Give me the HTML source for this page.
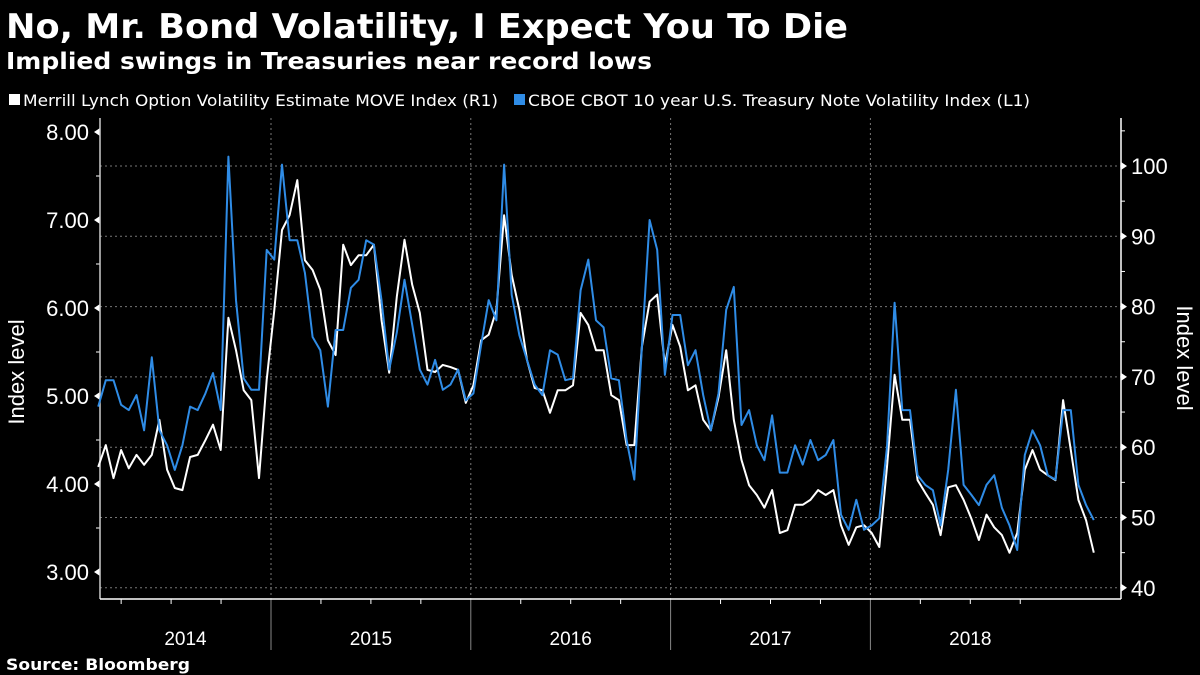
<!DOCTYPE html>
<html><head><meta charset="utf-8"><style>
html,body{margin:0;padding:0;background:#000;}
svg{display:block;font-family:"Liberation Sans","DejaVu Sans",sans-serif;}
</style></head><body>
<svg id="chart" width="1200" height="675" viewBox="0 0 1200 675">
<rect width="1200" height="675" fill="#000"/>
<text x="6" y="38" fill="#fff" font-size="34" font-weight="bold" font-family="DejaVu Sans, sans-serif" textLength="842" lengthAdjust="spacingAndGlyphs">No, Mr. Bond Volatility, I Expect You To Die</text>
<text x="6" y="69" fill="#fff" font-size="23" font-weight="bold" font-family="DejaVu Sans, sans-serif" textLength="646" lengthAdjust="spacingAndGlyphs">Implied swings in Treasuries near record lows</text>
<g>
<g><rect x="9" y="94" width="11" height="11" fill="#fff"/><text x="23" y="106" fill="#fff" font-size="16" font-family="DejaVu Sans, sans-serif" textLength="475" lengthAdjust="spacingAndGlyphs">Merrill Lynch Option Volatility Estimate MOVE Index  (R1)</text></g>
<g><rect x="514" y="94" width="11" height="11" fill="#2f8ce6"/><text x="528" y="106" fill="#fff" font-size="16" font-family="DejaVu Sans, sans-serif" textLength="502" lengthAdjust="spacingAndGlyphs">CBOE CBOT 10 year U.S. Treasury Note Volatility Index  (L1)</text></g>
</g>
<g id="grid"></g>
<g id="axes"></g>
<g id="series"></g>
<text transform="translate(24,372) rotate(-90)" text-anchor="middle" fill="#fff" font-size="22">Index level</text>
<text transform="translate(1177,358) rotate(90)" text-anchor="middle" fill="#fff" font-size="22">Index level</text>
<text x="6" y="670" fill="#fff" font-size="16" font-weight="bold" font-family="DejaVu Sans, sans-serif" textLength="184" lengthAdjust="spacingAndGlyphs">Source: Bloomberg</text>
</svg>
<script>
// Data: biweekly samples starting 2014-02-19
const startYear = 2014.135;
const stepYears = 14/365.25;
const leftTicks = ["8.00","7.00","6.00","5.00","4.00","3.00"];
const leftTickValues = [8,7,6,5,4,3];
const rightTickValues = [100,90,80,70,60,50,40];
const yearLabels = ["2014","2015","2016","2017","2018"];
const yearStarts = [2014,2015,2016,2017,2018,2019];
const tyvix = [4.88,5.18,5.18,4.90,4.84,5.01,4.61,5.44,4.61,4.44,4.16,4.44,4.88,4.84,5.03,5.26,4.84,7.72,6.09,5.20,
5.07,5.07,6.66,6.55,7.63,6.77,6.77,6.40,5.67,5.52,4.88,5.75,5.75,6.23,6.32,6.77,6.72,6.09,5.30,5.72,
6.32,5.81,5.30,5.13,5.41,5.07,5.13,5.30,4.95,5.03,5.58,6.09,5.86,7.63,6.15,5.69,5.41,5.13,5.01,5.52,
5.47,5.18,5.20,6.20,6.55,5.86,5.78,5.20,5.18,4.50,4.05,5.56,7.00,6.66,5.24,5.92,5.92,5.35,5.52,5.01,
4.61,5.03,5.98,6.24,4.67,4.84,4.44,4.27,4.78,4.13,4.13,4.44,4.22,4.50,4.27,4.33,4.50,3.65,3.48,3.82,
3.48,3.53,3.61,4.42,6.06,4.84,4.84,4.10,3.99,3.93,3.53,4.16,5.07,3.99,3.88,3.76,3.99,4.10,3.73,3.53,
3.25,4.33,4.61,4.44,4.10,4.05,4.84,4.84,3.99,3.76,3.59];
const move = [57.2,60.3,55.6,59.6,57.0,58.9,57.5,58.9,63.9,56.8,54.2,53.9,58.6,58.9,61.0,63.2,59.6,78.4,73.8,68.1,
66.7,55.6,69.6,79.5,90.9,93.0,98.0,86.6,85.2,82.4,75.2,73.1,88.8,85.9,87.3,87.3,88.8,78.1,70.6,81.4,
89.5,83.1,79.1,71.0,70.7,71.7,71.4,71.0,66.3,68.8,75.2,76.0,79.5,93.0,84.5,79.5,72.4,68.4,68.1,64.9,
68.1,68.1,68.8,79.1,77.4,73.8,73.8,67.4,66.7,60.3,60.3,74.3,80.7,81.7,71.7,77.4,74.3,68.1,68.8,63.9,
62.4,67.1,73.8,63.9,58.2,54.6,53.2,51.4,53.9,47.8,48.2,51.8,51.8,52.5,53.9,53.2,53.9,48.9,46.1,48.6,
48.9,47.8,45.8,57.2,70.3,63.9,63.9,55.3,53.5,51.8,47.5,54.3,54.6,52.5,49.9,46.8,50.4,48.6,47.5,45.0,
47.8,56.8,59.6,56.8,56.0,55.3,66.7,59.6,52.5,49.6,45.0];

const NS="http://www.w3.org/2000/svg";
const X0=100, X1=1121, YT=118, YB=599;
function xScale(t){return 271 + (t-2015)*199.8;}
function yLeft(v){return 132 + (8-v)*88;}
function yRight(v){return 166 + (100-v)*7.03;}
function mk(tag,attrs,parent){const e=document.createElementNS(NS,tag);for(const k in attrs)e.setAttribute(k,attrs[k]);parent.appendChild(e);return e;}
const grid=document.getElementById('grid'), axes=document.getElementById('axes'), series=document.getElementById('series');

rightTickValues.forEach(v=>{
  const y=yRight(v);
  const l=mk('line',{x1:X0,x2:X1,y1:y,y2:y,stroke:'#777','stroke-width':1,'stroke-dasharray':'2,3'},grid);
  
  
  const t=mk('text',{x:1131,y:y+8,fill:'#fff','font-size':22},axes);
  t.textContent=String(v);
  
  
  mk('path',{d:`M${X1} ${y-4}L${X1+6} ${y}L${X1} ${y+4}Z`,fill:'#fff'},axes);
  if(v<100){const ym=yRight(v+5);mk('line',{x1:X1,x2:X1+4,y1:ym,y2:ym,stroke:'#fff'},axes);}
});
mk('line',{x1:X1,x2:X1+4,y1:yRight(105),y2:yRight(105),stroke:'#fff'},axes);
yearStarts.slice(1,5).forEach(yr=>{
  const x=xScale(yr);
  const l=mk('line',{x1:x,x2:x,y1:YT,y2:YB,stroke:'#777','stroke-width':1,'stroke-dasharray':'2,3'},grid);
  
  
  mk('line',{x1:x,x2:x,y1:YB,y2:650,stroke:'#888','stroke-width':1},axes);
});
for(let yr=2014;yr<2019;yr++){for(let q=0;q<4;q++){const x=xScale(yr+q/4);if(q>0&&x>X0&&x<X1)mk('line',{x1:x,x2:x,y1:YB,y2:YB+5,stroke:'#fff'},axes);}}
yearLabels.forEach((lab,i)=>{
  const a=Math.max(X0,xScale(yearStarts[i])), b=Math.min(X1,xScale(yearStarts[i+1]));
  const t=mk('text',{x:(a+b)/2,y:645,fill:'#fff','font-size':19,'text-anchor':'middle'},axes);
  t.textContent=lab;
  
  
});
leftTickValues.forEach((v,i)=>{
  const y=yLeft(v);
  const t=mk('text',{x:89,y:y+8,fill:'#fff','font-size':22,'text-anchor':'end'},axes);
  t.textContent=leftTicks[i];
  
  
  mk('path',{d:`M${X0} ${y-4}L${X0-6} ${y}L${X0} ${y+4}Z`,fill:'#fff'},axes);
  if(v>3){const ym=yLeft(v-0.5);mk('line',{x1:X0-4,x2:X0,y1:ym,y2:ym,stroke:'#fff'},axes);}
});
const la=mk('line',{x1:X0,x2:X0,y1:YT,y2:YB,stroke:'#ccc','stroke-width':1.5},axes);


const ra=mk('line',{x1:X1,x2:X1,y1:YT,y2:YB,stroke:'#fff','stroke-width':1.5},axes);


const xa=mk('line',{x1:X0,x2:X1,y1:YB,y2:YB,stroke:'#fff','stroke-width':1.5},axes);



function pathFor(arr,yf){return arr.map((v,i)=>(i?'L':'M')+xScale(startYear+i*stepYears).toFixed(1)+' '+yf(v).toFixed(1)).join('');}
const pw=mk('path',{d:pathFor(move,yRight),fill:'none',stroke:'#fff','stroke-width':2,'stroke-linejoin':'round'},series);


const pb=mk('path',{d:pathFor(tyvix,yLeft),fill:'none',stroke:'#2f8ce6','stroke-width':2,'stroke-linejoin':'round'},series);


</script>
</body></html>
